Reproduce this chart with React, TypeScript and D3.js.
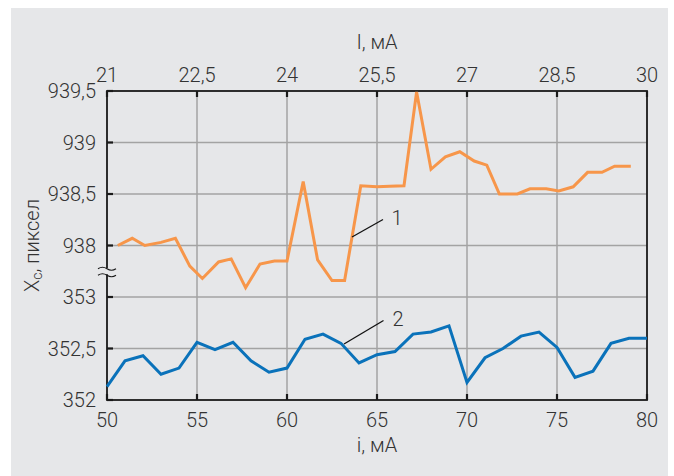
import * as d3 from 'd3'

// lower series (2): i, mA and X_c, px
const blueI = [50, 51, 52, 53, 54, 55, 56, 57, 58, 59, 60, 61, 62, 63, 64, 65, 66, 67, 68, 69, 70, 71, 72, 73, 74, 75, 76, 77, 78, 79, 80]
const blueX = [
  352.13, 352.38, 352.43, 352.25, 352.31, 352.56, 352.49, 352.56, 352.38, 352.27, 352.31,
  352.59, 352.64, 352.55, 352.36, 352.44, 352.47, 352.64, 352.66, 352.72, 352.17,
  352.41, 352.5, 352.62, 352.66, 352.51, 352.22, 352.28, 352.55, 352.6, 352.6,
]

// upper series (1)
const orangeI = [
  50.6, 51.4, 52.1, 53.0, 53.8, 54.6, 55.3, 56.2, 56.9, 57.7, 58.5, 59.3, 60.0, 60.9, 61.7, 62.5,
  63.2, 64.1, 65.0, 65.7, 66.5, 67.2, 68.0, 68.8, 69.6, 70.4, 71.1, 71.8, 72.8, 73.5, 74.4, 75.1,
  75.9, 76.7, 77.5, 78.2, 79.1,
]
const orangeX = [
  938.0, 938.07, 938.0, 938.03, 938.07, 937.8, 937.68, 937.84, 937.87, 937.59, 937.82, 937.85,
  937.85, 938.62, 937.86, 937.66, 937.66, 938.58, 938.57, 938.575, 938.58, 939.49, 938.74, 938.86,
  938.91, 938.82, 938.78, 938.5, 938.5, 938.55, 938.55, 938.53, 938.57, 938.71, 938.71, 938.77,
  938.77,
]

const bottomTicks = [50, 55, 60, 65, 70, 75, 80]
const topTicks = [21, 22.5, 24, 25.5, 27, 28.5, 30]
const lowTicks = [352, 352.5, 353]
const highTicks = [938, 938.5, 939, 939.5]

const W = 674
const H = 476
const L = 107
const R = 647
const T = 91
const B = 400

const font = 'Roboto, "Open Sans", sans-serif'
const textColor = '#333'
const fmt = (v: number) => String(v).replace('.', ',')

export default function App() {
  const x = d3.scaleLinear().domain([50, 80]).range([L, R])
  const xTop = d3.scaleLinear().domain([21, 30]).range([L, R])
  const yLow = d3.scaleLinear().domain([352, 355]).range([B, T])
  const yHigh = d3.scaleLinear().domain([936.5, 939.5]).range([B, T])

  const blueLine = d3
    .line<number>()
    .x((_, i) => x(blueI[i]))
    .y((d) => yLow(d))(blueX)
  const orangeLine = d3
    .line<number>()
    .x((_, i) => x(orangeI[i]))
    .y((d) => yHigh(d))(orangeX)

  const yTicks = [
    ...lowTicks.map((v) => ({ v, y: yLow(v) })),
    ...highTicks.map((v) => ({ v, y: yHigh(v) })),
  ]

  const breakY = (yLow(353) + yHigh(938)) / 2
  const wave = (yy: number) => `M98,${yy + 1} q4.5,-3 9,0 t9,0`

  return (
    <svg width={W} height={H} style={{ position: 'absolute', left: 0, top: 0 }} fontFamily={font}>
      <rect x={11} y={8} width={657} height={H - 8} fill="#e6e7e9" />

      {/* grid */}
      {bottomTicks.slice(1, -1).map((t) => (
        <line key={'gx' + t} x1={x(t)} x2={x(t)} y1={T} y2={B} stroke="#a3a3a3" strokeWidth={1.5} />
      ))}
      {yTicks
        .filter((d) => d.v !== 352 && d.v !== 939.5)
        .map((d) => (
          <line key={'gy' + d.v} x1={L} x2={R} y1={d.y} y2={d.y} stroke="#a3a3a3" strokeWidth={1.5} />
        ))}

      {/* frame */}
      <rect x={L} y={T} width={R - L} height={B - T} fill="none" stroke="#1a1a1a" strokeWidth={1.8} />

      {/* ticks */}
      {bottomTicks.map((t) => (
        <line key={'tb' + t} x1={x(t)} x2={x(t)} y1={B} y2={B - 6} stroke="#1a1a1a" strokeWidth={2.2} />
      ))}
      {topTicks.map((t) => (
        <line key={'tt' + t} x1={xTop(t)} x2={xTop(t)} y1={T} y2={T + 6} stroke="#1a1a1a" strokeWidth={2.2} />
      ))}
      {yTicks.map((d) => (
        <line key={'ty' + d.v} x1={L} x2={L + 6} y1={d.y} y2={d.y} stroke="#1a1a1a" strokeWidth={2.2} />
      ))}

      {/* axis break */}
      <rect x={L - 2} y={breakY - 3} width={4} height={6} fill="#e6e7e9" />
      <path d={wave(breakY - 3.5)} fill="none" stroke="#1a1a1a" strokeWidth={1.1} />
      <path d={wave(breakY + 3)} fill="none" stroke="#1a1a1a" strokeWidth={1.1} />

      {/* tick labels */}
      <g fill={textColor} fontSize={20} fontWeight={300}>
        {bottomTicks.map((t) => (
          <text key={'lb' + t} x={x(t)} y={420} textAnchor="middle" dominantBaseline="central">
            {t}
          </text>
        ))}
        {topTicks.map((t) => (
          <text key={'lt' + t} x={xTop(t)} y={75} textAnchor="middle" dominantBaseline="central">
            {fmt(t)}
          </text>
        ))}
        {yTicks.map((d) => (
          <text key={'ly' + d.v} x={96} y={d.y} textAnchor="end" dominantBaseline="central">
            {fmt(d.v)}
          </text>
        ))}
        <text x={(L + R) / 2} y={42} textAnchor="middle" dominantBaseline="central">
          I, мА
        </text>
        <text x={(L + R) / 2} y={445} textAnchor="middle" dominantBaseline="central">
          i, мА
        </text>
        <text transform={`translate(32,${(T + B) / 2}) rotate(-90)`} textAnchor="middle" dominantBaseline="central">
          X<tspan fontSize={14} dy={5}>c</tspan>
          <tspan dy={-5}>, пиксел</tspan>
        </text>
      </g>

      {/* series */}
      <path d={orangeLine ?? ''} fill="none" stroke="#f7964a" strokeWidth={3} strokeLinejoin="miter" />
      <path d={blueLine ?? ''} fill="none" stroke="#0a72ba" strokeWidth={3} strokeLinejoin="miter" />

      {/* curve labels */}
      <line x1={352} y1={237} x2={383} y2={219.5} stroke="#111" strokeWidth={1.3} />
      <line x1={344} y1={344} x2={383.5} y2={320.5} stroke="#111" strokeWidth={1.3} />
      <g fill={textColor} fontSize={20} fontWeight={300}>
        <text x={397} y={218} textAnchor="middle" dominantBaseline="central">1</text>
        <text x={398} y={319} textAnchor="middle" dominantBaseline="central">2</text>
      </g>
    </svg>
  )
}
